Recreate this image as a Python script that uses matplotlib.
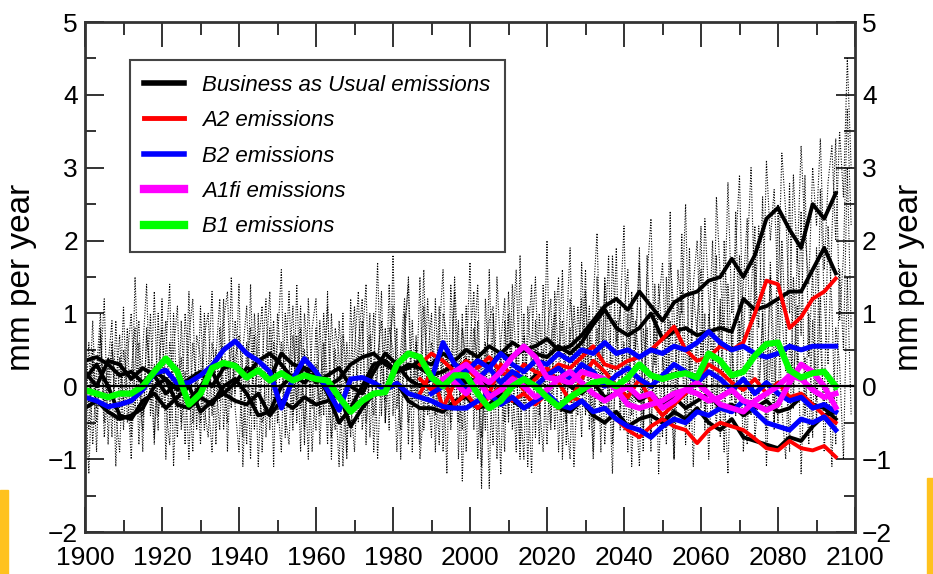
import numpy as np
import matplotlib
matplotlib.use("Agg")
import matplotlib.pyplot as plt
from matplotlib.patches import Rectangle

plt.rcParams['font.family'] = ['Liberation Sans', 'DejaVu Sans']

def arr(s):
    return np.array(s.split(), dtype=float)

# thick (smoothed) runs, one value every 3 years from 1900 to 2095
years = np.arange(1900, 2096, 3)

bau_1 = arr("""0.35 0.4 0.3 0.15 0.2 0.05 0.2 0.1 -0.05 0.1
 0.2 0.0 0.25 0.3 0.15 0.35 0.45 0.3 0.1 0.25
 0.2 0.0 0.1 0.3 0.4 0.45 0.3 0.2 0.25 0.35
 0.3 0.45 0.35 0.5 0.4 0.55 0.45 0.6 0.5 0.55
 0.65 0.5 0.55 0.7 0.9 1.1 1.2 1.05 1.3 1.1
 0.9 1.15 1.25 1.3 1.45 1.5 1.75 1.5 1.8 2.3
 2.45 2.15 1.9 2.5 2.3 2.65""")
bau_2 = arr("""-0.3 -0.2 -0.35 -0.45 -0.4 -0.3 0.0 0.1 -0.25 -0.3
 -0.15 -0.25 0.0 0.1 -0.1 -0.4 -0.35 0.0 0.15 0.05
 0.2 -0.1 -0.5 -0.3 0.0 0.3 0.35 0.2 0.3 0.25
 0.15 0.2 0.3 0.25 0.35 0.3 0.45 0.4 0.5 0.45
 0.4 0.55 0.45 0.6 0.85 1.05 0.8 0.7 0.8 1.0
 0.65 0.75 0.8 0.7 0.75 0.8 0.75 1.2 1.05 1.1
 1.2 1.3 1.3 1.6 1.9 1.55""")
bau_3 = arr("""0.1 0.3 0.0 -0.4 -0.45 -0.2 -0.1 -0.3 -0.15 0.0
 -0.35 -0.2 -0.1 -0.2 -0.25 -0.1 -0.4 -0.2 -0.3 -0.15
 -0.25 -0.2 -0.1 -0.55 -0.3 -0.1 -0.05 0.05 -0.2 -0.3
 -0.3 -0.35 -0.2 -0.15 -0.3 -0.25 -0.1 -0.2 -0.3 -0.2
 -0.1 -0.3 -0.35 -0.2 -0.4 -0.5 -0.35 -0.55 -0.45 -0.4
 -0.5 -0.35 -0.45 -0.3 -0.5 -0.6 -0.45 -0.7 -0.75 -0.8
 -0.85 -0.7 -0.75 -0.55 -0.4 -0.35""")
bau_4 = arr("""0.2 0.0 0.35 0.3 0.1 0.25 0.15 -0.1 0.05 -0.2
 0.0 0.2 -0.1 0.05 0.25 0.2 0.1 0.45 0.3 0.25
 0.05 0.15 0.25 0.0 -0.1 0.2 0.45 0.3 0.1 0.0
 0.1 0.0 0.15 0.05 0.1 0.0 0.2 0.1 0.0 0.15
 0.2 0.1 0.0 -0.1 0.05 -0.15 -0.1 0.0 -0.2 -0.1
 -0.25 -0.15 -0.3 -0.2 -0.1 -0.3 -0.25 -0.4 -0.3 -0.2
 -0.35 -0.3 -0.15 -0.25 -0.3 -0.45""")

b1_run = arr("""-0.05 -0.1 -0.15 -0.1 -0.1 0.0 0.2 0.38 0.2 -0.25
 -0.1 0.25 0.32 0.28 0.12 0.22 0.08 0.18 0.08 0.15
 0.1 0.08 -0.15 -0.35 -0.2 -0.1 -0.08 0.3 0.45 0.4
 0.12 0.0 0.15 0.15 -0.1 -0.3 -0.2 0.0 0.1 0.0
 -0.15 -0.28 -0.15 -0.05 0.05 0.08 0.0 0.12 0.3 0.15
 0.1 0.15 0.18 0.12 0.45 0.35 0.15 0.2 0.42 0.58
 0.6 0.22 0.12 0.18 0.2 0.0""")

b2_run1 = arr("""-0.15 -0.2 -0.28 -0.25 -0.2 -0.05 0.18 0.22 0.04 0.05
 0.15 0.28 0.5 0.62 0.45 0.35 0.2 -0.3 0.1 0.38
 0.2 -0.05 -0.33 0.1 0.12 0.05 -0.05 0.04 -0.1 -0.15
 -0.2 -0.28 -0.3 -0.3 -0.2 -0.1 -0.25 -0.15 -0.3 -0.2
 -0.1 -0.25 -0.3 -0.2 -0.35 -0.3 -0.45 -0.55 -0.6 -0.7
 -0.55 -0.45 -0.5 -0.35 -0.4 -0.3 -0.35 -0.2 -0.35 -0.5
 -0.55 -0.6 -0.45 -0.5 -0.42 -0.6""")
# scenario runs start later (1990 for B2, 1987 for A2, 1993/1996 for A1fi)
b2_run2 = arr("""0.1 0.6 0.3 0.2 0.35 0.25 0.45 0.3 0.2 0.35
 0.3 0.45 0.35 0.5 0.45 0.6 0.45 0.5 0.4 0.5
 0.45 0.55 0.5 0.6 0.75 0.6 0.5 0.55 0.45 0.4
 0.45 0.55 0.5 0.55 0.55 0.55""")
b2_run3 = arr("""-0.1 0.0 0.15 -0.05 0.1 0.25 0.05 0.2 0.1 0.0
 0.15 0.25 0.1 0.3 0.2 0.0 0.15 0.25 0.1 0.0
 0.15 0.3 0.2 0.05 0.2 0.1 -0.05 0.1 -0.1 0.05
 -0.1 -0.2 -0.15 -0.3 -0.25 -0.35""")

a2_run1 = arr("""0.3
 0.45 0.35 0.2 0.35 0.25 0.4 0.2 0.1 0.3 0.2
 0.15 0.3 0.25 0.4 0.55 0.3 0.25 0.35 0.4 0.5
 0.65 0.82 0.5 0.35 0.4 0.55 0.5 0.6 1.0 1.45
 1.4 0.8 0.95 1.2 1.3 1.48""")
a2_run2 = arr("""0.1
 -0.05 0.1 -0.25 -0.1 -0.3 -0.15 0.0 -0.2 -0.1 -0.25
 -0.1 -0.3 -0.15 -0.2 -0.35 -0.3 -0.45 -0.6 -0.7 -0.55
 -0.45 -0.55 -0.6 -0.78 -0.6 -0.5 -0.55 -0.6 -0.72 -0.85
 -0.88 -0.75 -0.85 -0.88 -0.82 -0.97""")
a2_run3 = arr("""-0.1
 0.2 -0.3 0.05 0.25 0.1 -0.1 0.3 0.15 -0.05 0.1
 0.25 0.05 -0.2 0.1 0.35 0.2 0.0 -0.15 0.1 -0.2
 -0.4 -0.25 -0.1 0.1 0.3 0.2 0.05 -0.05 0.1 -0.1
 0.05 -0.15 -0.1 -0.25 -0.4 -0.5""")

a1fi_run1 = arr("""0.1 0.2 0.3 0.15 0.05 0.2 0.4 0.55 0.4
 0.12 0.1 0.04 0.2 0.15 0.1 -0.05 -0.25 -0.3 -0.25
 -0.2 -0.1 -0.05 -0.1 -0.2 -0.15 -0.05 -0.2 -0.25 -0.33
 -0.25 0.05 0.3 0.2 0.0 -0.29""")
a1fi_run2 = arr("""0.05 -0.1 0.1 -0.15 -0.05 0.1 0.0 -0.15
 -0.05 0.1 0.2 0.05 -0.1 -0.2 -0.1 0.0 -0.15 -0.1
 -0.3 -0.2 -0.05 0.05 -0.1 -0.25 -0.3 -0.35 -0.2 -0.1
 0.0 0.15 0.1 -0.05 -0.15 -0.1""")

# annual (unsmoothed) runs, 1900-2099, drawn dotted
annual_years = np.arange(1900, 2100)
annual_1 = arr("""0.3 -0.6 0.5 -0.9 0.7 -0.2 0.4 -0.7 0.9 -0.3
 1.1 -0.5 0.2 0.8 -0.8 0.5 1.4 -0.4 0.3 -0.6
 1.2 -1.0 0.6 0.1 -0.7 0.9 -0.3 1.3 -0.5 0.2
 -0.8 0.7 1.0 -0.4 0.5 -0.2 1.2 -0.9 0.6 -0.1
 1.4 -1.1 0.3 0.8 -0.6 1.0 -0.9 0.4 1.3 -0.3
 0.6 1.6 -0.7 0.2 1.1 -0.5 0.8 -0.8 1.2 0.0
 -0.6 0.9 -0.4 1.3 -1.0 0.5 -0.2 1.0 -0.9 0.3
 1.1 -0.5 0.6 1.4 -0.7 0.3 1.7 -0.4 0.8 -0.6
 1.8 -0.3 0.5 1.2 -0.8 0.9 -0.2 1.5 -0.6 0.4
 1.0 -0.9 0.7 1.6 -0.4 0.2 1.3 -1.0 0.8 0.3
 1.7 -0.6 0.9 -1.4 1.2 0.1 -0.8 1.5 0.4 -0.5
 1.3 0.2 -0.9 1.8 -0.3 0.6 1.4 -0.7 1.0 0.0
 2.0 -0.5 0.8 1.5 -1.0 0.7 1.9 -0.3 1.1 0.2
 1.6 -0.6 1.2 2.1 0.0 1.4 -0.4 1.8 0.6 1.0
 2.2 -0.2 1.3 0.5 1.9 -0.6 1.5 2.3 0.3 1.1
 1.7 0.2 2.4 -0.5 1.6 1.0 2.5 0.1 1.4 2.0
 0.4 2.3 1.2 -0.3 2.6 1.5 0.8 2.8 1.0 1.9
 2.9 0.6 1.8 3.0 1.1 2.2 0.9 3.1 2.0 2.7
 1.3 3.2 2.4 1.0 2.9 1.7 3.3 2.1 1.4 3.0
 2.2 3.4 1.6 2.8 3.3 2.0 3.5 2.6 4.5 3.0""")
annual_2 = arr("""-0.4 0.6 -0.8 0.2 1.0 -0.5 0.3 0.9 -1.1 0.4
 -0.2 0.8 -0.7 1.5 0.0 -0.6 0.7 0.2 -0.8 1.0
 -0.3 0.5 1.4 -1.1 0.3 -0.5 1.0 0.1 -0.9 0.7
 0.4 -0.6 0.2 1.3 -0.8 0.8 0.0 -0.5 1.5 -0.3
 -0.9 0.5 1.1 -0.4 0.7 -1.1 0.3 1.2 -0.6 0.6
 -0.2 -0.9 1.0 0.4 -0.6 1.4 -0.3 0.5 -1.0 0.8
 1.2 -0.4 0.6 -0.8 1.0 -0.1 -1.1 0.7 0.2 -0.7
 0.5 1.3 -0.6 0.0 1.0 -0.9 0.4 0.9 -0.5 1.4
 -0.4 0.8 -1.0 0.6 1.5 -0.3 0.7 -0.8 1.1 0.0
 -0.7 1.2 -0.2 0.4 -1.2 1.4 0.3 -0.5 1.0 -0.9
 0.6 1.3 -1.0 0.4 -0.6 1.6 -0.3 0.2 -1.2 0.9
 -0.4 1.4 0.3 -0.8 1.0 -1.1 0.6 1.5 -0.2 -0.9
 0.7 1.2 -0.6 0.2 1.6 -0.4 -1.0 1.1 0.3 -0.7
 1.3 0.0 -0.9 1.5 -0.3 0.6 1.8 -0.8 0.4 1.1
 -0.6 1.0 -1.1 0.5 1.7 -0.4 0.8 -0.9 1.4 0.2
 -0.7 1.5 0.1 -1.0 1.2 0.4 -0.5 1.9 -0.2 0.9
 1.6 -0.6 0.7 2.0 -0.3 1.1 -0.9 1.4 0.5 -0.4
 1.8 0.2 -0.8 1.3 2.2 -0.2 0.9 -0.6 1.7 0.4
 -0.5 2.0 0.8 -0.9 1.5 0.3 2.4 -0.4 1.0 -0.7
 1.9 0.6 -0.3 2.2 1.1 -0.8 1.6 0.5 3.0 0.8""")
annual_3 = arr("""0.1 -1.2 0.4 -0.3 0.8 -0.7 0.0 0.6 -0.4 -0.9
 0.5 0.0 -1.0 0.3 0.9 -0.4 -0.1 1.0 -0.7 0.2
 0.8 -0.3 -0.8 0.5 1.1 -0.6 0.2 -1.0 0.6 0.0
 -0.5 1.0 -0.2 -0.9 0.4 1.2 -0.6 0.3 -0.3 0.9
 0.2 -0.7 0.6 -1.0 1.0 0.1 -0.5 -0.2 0.8 -1.1
 1.0 0.3 -0.4 -0.8 0.7 -0.2 1.1 -0.6 0.4 -0.9
 0.3 -0.3 1.0 0.0 -0.7 0.8 0.4 -1.1 0.6 -0.2
 -0.9 0.4 0.9 -0.5 0.2 1.0 -1.0 0.3 -0.2 0.8
 0.5 -0.9 0.2 1.0 -0.5 0.0 0.6 -1.0 -0.3 1.2
 0.2 -0.4 1.1 -0.9 0.5 -0.6 0.0 0.9 -1.3 0.4
 -0.3 0.8 0.3 -1.1 0.6 -1.4 1.0 -0.2 0.5 -0.9
 1.0 -0.6 0.4 -1.0 0.7 0.1 -1.2 0.9 -0.4 0.5
 -0.8 0.6 1.0 -0.9 0.3 -0.5 0.8 -1.1 0.2 1.2
 -0.4 0.7 -1.0 0.3 1.1 -0.8 0.2 -1.2 0.9 -0.3
 0.6 -0.9 1.2 -0.2 -1.1 0.8 0.1 -0.7 1.0 -1.2
 0.4 -0.5 0.9 -1.0 0.2 1.3 -0.8 0.5 -1.1 0.7
 -0.3 1.0 -1.0 0.4 -0.6 1.2 0.0 -1.2 0.8 -0.4
 0.9 -0.9 0.3 1.1 -0.7 -0.1 1.0 -1.1 0.5 -0.6
 1.2 -0.3 -1.0 0.6 0.0 1.1 -1.2 0.4 -0.8 0.9
 -0.5 1.3 -0.9 0.2 -1.1 0.8 0.3 -1.0 1.5 -0.4""")
annual_4 = arr("""0.6 -0.3 0.9 -0.5 0.2 1.2 -0.8 0.5 0.0 0.7
 -0.6 0.4 1.0 -0.3 0.6 -0.9 0.8 -0.2 1.3 -0.4
 0.2 0.9 -0.5 1.0 -0.3 0.4 -0.8 0.7 1.2 -0.6
 1.1 -0.3 -0.7 0.6 0.1 -0.6 0.9 1.3 -0.2 0.4
 0.7 0.2 -0.8 1.4 -0.3 0.5 1.1 -0.7 0.2 0.9
 -0.5 0.6 0.2 1.3 -0.4 0.7 -0.9 1.0 0.3 -0.3
 0.8 -0.8 0.3 1.1 -0.2 -0.6 0.9 0.1 -1.0 1.2
 -0.3 0.6 1.2 -0.8 0.7 -0.4 0.2 1.3 -0.5 0.4
 1.1 0.3 -0.6 0.8 1.4 -0.9 0.5 0.0 1.6 -0.4
 0.6 0.3 -0.8 1.0 0.7 -0.5 1.5 0.2 -0.6 1.1
 -0.2 0.5 1.4 -0.7 0.2 0.9 1.1 -1.0 0.6 1.2
 -0.5 0.7 1.6 -0.2 -1.0 1.1 0.3 0.5 -0.8 1.4
 0.1 -0.6 1.3 0.4 0.9 -0.8 1.2 0.6 -0.4 1.7
 0.3 1.1 -0.5 0.8 -0.9 1.5 0.7 0.2 1.9 -0.6
 1.0 1.6 -0.4 0.9 0.3 -0.9 1.8 0.5 -0.3 1.4
 0.6 -0.8 1.7 1.0 -0.2 2.1 0.2 -0.6 1.3 0.7
 2.2 -0.5 1.0 0.4 1.8 -0.7 2.0 0.9 -0.2 2.4
 0.5 1.4 2.3 -0.4 1.7 0.8 2.6 0.0 1.5 -0.5
 2.5 1.0 0.2 2.8 -0.3 1.9 0.7 2.9 0.4 1.6
 -0.2 2.7 1.2 0.3 2.1 3.4 0.9 1.8 3.8 2.2""")

labels = ['Business as Usual emissions', 'A2 emissions', 'B2 emissions',
          'A1fi emissions', 'B1 emissions']
colors = ['black', '#ff0000', '#0000ff', '#ff00ff', '#00ff00']


def tail(vals):
    # scenario runs end at 2095, so they start len(vals) steps back
    return years[len(years) - len(vals):]


fig = plt.figure(figsize=(9.33, 5.74), dpi=100)
ax = fig.add_axes([85 / 933, 42 / 574, 770 / 933, 510 / 574])

for a in [annual_1, annual_2, annual_3, annual_4]:
    ax.plot(annual_years, a, color='black', lw=0.8, ls=(0, (1, 1.4)))

for i, r in enumerate([bau_1, bau_2, bau_3, bau_4]):
    ax.plot(tail(r), r, color=colors[0], lw=2.8, label=labels[0] if i == 0 else None)
for i, r in enumerate([a2_run1, a2_run2, a2_run3]):
    ax.plot(tail(r), r, color=colors[1], lw=2.8, label=labels[1] if i == 0 else None)
for i, r in enumerate([b2_run1, b2_run2, b2_run3]):
    ax.plot(tail(r), r, color=colors[2], lw=3.6, label=labels[2] if i == 0 else None)
for i, r in enumerate([a1fi_run1, a1fi_run2]):
    ax.plot(tail(r), r, color=colors[3], lw=4.0, label=labels[3] if i == 0 else None)
ax.plot(years, b1_run, color=colors[4], lw=4.5, label=labels[4])

ax.axhline(0, color='black', lw=1.6)

ax.set_xlim(1900, 2100)
ax.set_ylim(-2, 5)
ax.set_xticks(np.arange(1900, 2101, 20))
ax.set_xticks(np.arange(1910, 2100, 20), minor=True)
ax.set_yticks(np.arange(-2, 6, 1))
ax.set_yticks(np.arange(-1.5, 5, 1), minor=True)
ax.tick_params(which='both', direction='in', top=True, right=True,
               labelright=True, width=1.4, color='#333333', labelsize=19, pad=5)
ax.tick_params(axis='x', which='both', pad=10)
ax.tick_params(axis='x', which='major', length=18)
ax.tick_params(axis='x', which='minor', length=9)
ax.tick_params(axis='y', which='major', length=14)
ax.tick_params(axis='y', which='minor', length=8)
for s in ax.spines.values():
    s.set_linewidth(2)
    s.set_color('#333333')

ax.set_ylabel('mm per year', fontsize=24, labelpad=8)
ax2 = ax.secondary_yaxis('right')
ax2.set_yticks([])
ax2.spines['right'].set_visible(False)
ax2.set_ylabel('mm per year', fontsize=24, rotation=90, labelpad=28)

leg = ax.legend(loc='upper left', bbox_to_anchor=(0.058, 0.925), fancybox=False,
                edgecolor='#444444', framealpha=1, handlelength=1.8, handletextpad=0.8,
                borderpad=0.65, labelspacing=0.65, borderaxespad=0,
                prop={'size': 16, 'style': 'italic'})
leg.get_frame().set_linewidth(1.5)
for line, w in zip(leg.get_lines(), [4, 3.5, 4, 6, 6]):
    line.set_linewidth(w)

# yellow edge strips of the slide
fig.patches.append(Rectangle((0, 0), 8 / 933, 84 / 574, transform=fig.transFigure,
                             color='#ffc21e', zorder=0))
fig.patches.append(Rectangle((927 / 933, 0), 6 / 933, 96 / 574, transform=fig.transFigure,
                             color='#ffc21e', zorder=0))

fig.savefig('out.png', dpi=100)
